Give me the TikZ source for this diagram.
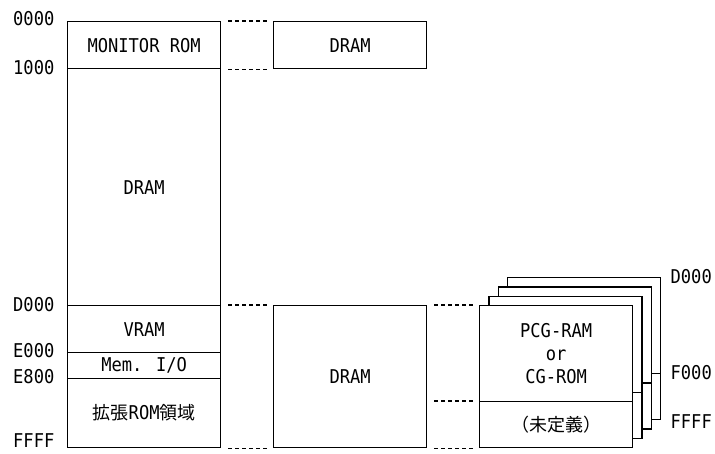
\documentclass[tikz,border=0pt]{standalone}
\usepackage{fontspec}
\setmainfont[FakeStretch=0.9]{DejaVu Sans Mono}
\newfontfamily\jpfont{Noto Sans CJK JP}
\newcommand{\lbl}{\fontsize{19}{23}\selectfont}
\begin{document}
\begin{tikzpicture}[x=1pt,y=-1pt,line width=1.3pt,
  box/.style={draw,fill=white,anchor=north west,inner sep=0pt,minimum width=153pt,font=\lbl,align=center},
  dotline/.style={dash pattern=on 4pt off 3pt,line width=1.3pt},
  addr/.style={font=\lbl,inner sep=0pt}]
\useasboundingbox (0,0) rectangle (715,453);
% left column
\node[box,minimum height=47pt] (mon) at (67,21) {MONITOR ROM};
\node[box,minimum height=237pt] (dram) at (67,68) {DRAM};
\node[box,minimum height=47pt] (vram) at (67,305) {VRAM};
\node[box,minimum height=26pt] (memio) at (67,352) {Mem. I/O};
\node[box,minimum height=69pt] (ext) at (67,378) {{\jpfont\fontsize{18}{22}\selectfont 拡張}ROM{\jpfont\fontsize{18}{22}\selectfont 領域}};
% middle column
\node[box,minimum height=47pt] (mtop) at (273,21) {DRAM};
\node[box,minimum height=142pt] (mbot) at (273,305) {DRAM};
% right stack (back cards)
\foreach \k in {3,2,1}{
  \node[box,minimum height=96pt] (bt\k) at ({479+9.3*\k},{305-9.3*\k}) {};
  \node[box,minimum height=46pt] (bb\k) at ({479+9.3*\k},{401-9.3*\k}) {};
}
% front card
\node[box,minimum height=96pt] (pcg) at (479,305) {PCG-RAM\\or\\CG-ROM};
\node[box,minimum height=46pt] (undef) at (479,401) {\jpfont\fontsize{18}{22}\selectfont （未定義）};
% dotted connectors
\draw[dotline] ([xshift=7pt]mon.north east) -- ([xshift=-6pt]mtop.north west);
\draw[dotline] ([xshift=7pt]mon.south east) -- ([xshift=-6pt]mtop.south west);
\draw[dotline] ([xshift=7pt]vram.north east) -- ([xshift=-6pt]mbot.north west);
\draw[dotline] ([xshift=7pt]ext.south east) -- ([xshift=-6pt]mbot.south west);
\draw[dotline] ([xshift=7pt]mbot.north east) -- ([xshift=-6pt]pcg.north west);
\draw[dotline] ([xshift=7pt]mbot.east |- undef.north) -- ([xshift=-6pt]undef.north west);
\draw[dotline] ([xshift=7pt]mbot.south east) -- ([xshift=-6pt]undef.south west);
% address labels left
\node[addr,anchor=east] (a0000) at (55,19) {0000};
\node[addr,anchor=east] (a1000) at (55,68) {1000};
\node[addr,anchor=east] (aD000) at (55,305) {D000};
\node[addr,anchor=east] (aE000) at (55,351) {E000};
\node[addr,anchor=east] (aE800) at (55,377) {E800};
\node[addr,anchor=east] (aFFFF) at (55,441) {FFFF};
% address labels right
\node[addr,anchor=west] (rD000) at (670,277) {D000};
\node[addr,anchor=west] (rF000) at (670,373) {F000};
\node[addr,anchor=west] (rFFFF) at (670,422) {FFFF};
\end{tikzpicture}
\end{document}
